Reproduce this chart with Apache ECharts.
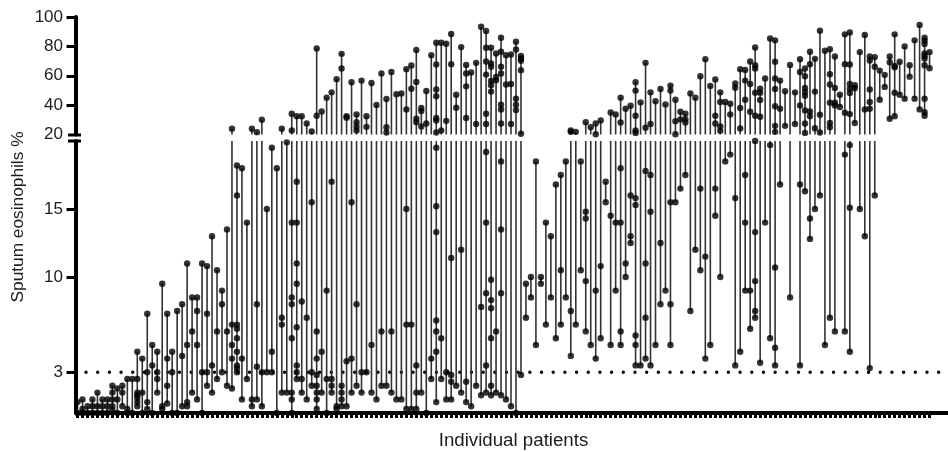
<!DOCTYPE html>
<html>
<head>
<meta charset="utf-8">
<style>html,body{margin:0;padding:0;background:#fff}#c{width:948px;height:452px}</style>
<script src="https://cdn.jsdelivr.net/npm/echarts@6/dist/echarts.min.js"></script>
</head>
<body>
<div id="c"></div>
<script>
// Sputum eosinophil readings per individual patient.
const patientsA = [
[0.8,0],[1.0,0.3,0],[0.5,0],[1.0,0.5,0],[1.5,0.5,0],[1.0,0.5,0],[1.0,0.5,0],[2.0,1.5,1.0,0.5,0.2],
[1.8,1.0,0],[2.0,1.5,0.5],[2.5,0.3,0],[2.5,0],[4.5,2.5,1.5,1.3,1.1,0.8,0.5],[4.0,1.5,0],[7.3,3.0,0.8,0.3],
[5.0,3.5,0],[4.5,3.0,2.5,1.5],[9.5,0.5,0.3],[7.3,4.0,2.0,0.7],[4.5,3.0,0],[7.5,0],[8.0,4.2,0.5],
[11.0,5.0,0.8,0.5],[8.5,6.0,1.5],[8.5,7.5,5.0,1.0],[11.0,3.0,0],[10.8,7.3,3.0,2.0],[13.0,3.5,1.5],
[10.5,6.0,2.5],[9.0,8.0,3.0],[13.5,6.0,2.0]
];
const patientsB = [
[23.9,6.5,5.0,4.0,1.8],[18.2,16.0,6.5,6.2,5.5,4.5,3.5,3.3,3.0],[18.0,4.0,1.0],[14.0,2.5],[23.9,1.0,0.5],
[21.6,8.0,3.4,1.0],[30.0,3.0,0.5],[15.0,3.0],[19.5,4.5,3.0],[18.0,0],[23.9,7.0,6.5,1.5],[19.9,1.5],
[34.1,22.7,14.0,8.5,8.0,5.5,1.5,1.0,0],[32.5,17.0,14.0,11.0,9.5,6.3,3.5,3.0,2.5],[32.5,8.2,2.5,1.5],
[27.5,7.0,1.0],[22.1,15.5,3.0,2.0],[78.6,32.8,6.0,4.0,2.8,2.0,1.5,1.0,0.3],[35.7,4.5,1.5],[45.1,9.0,2.5,0],
[48.7,17.0,2.5,2.0,1.5],[57.6,0.5,0.3],[74.9,64.9,2.0,1.5,1.0,0.5],[32.5,31.4,3.8,0.5],[55.6,15.5,4.0,1.5],
[33.7,28.4,25.5,22.7,8.0,2.0],[56.7,3.0,1.5],[32.5,25.2,3.0],[55.1,5.0,1.5],[40.1,1.0]
];
const patientsC = [
[61.5,6.0,2.0],[44.2,25,21.4,2.0],[62.6,6.0,1.5],[47.4,1.0],[48,1.0],[64.5,37.1,15.0,6.5,0.3],[67,51.2,6.5,0.3],
[77.5,55.8,30.7,28.4,3.5,1.5,0.3],[38,36,25.5,1.5],[49.6,27.5,0],[74,4.0,2.5],
[82.5,67.7,50.6,46,31.2,29.6,21.4,19.5,15.2,13.3,6.8,6.0,4.5,0.8],[82.5,22.7,5.5,2.5],[81.8,29.3,3.0,1.0],
[88.4,67.9,11.4,2.8,2.3,1.0],[47.1,38.2,2.0],[79.5,12.0,1.5],[67.4,61.5,52.8,31.2,2.3,0.8],[62.2,0.5],
[68.8,27.1,2.0],[93.4,7.8,1.3],[90.5,79.1,69.7,60.8,34.1,27.1,19.2,14.0,8.8,3.5,1.5],
[79.1,68.3,66.1,56.5,53.5,49.2,9.8,8.3,7.7,5.5,2.0,1.3],[75.2,59.2,56.9,6.0,1.5],
[85.9,76.3,66.1,61.5,40.3,37.1,27.5,18.5,13.5,8.8,1.3],[74,54,1.0],[74.5,54.4,27.1,0.5],
[83.2,77.9,44.4,40.3,36.6,0],[73.4,71.8,70.2,63.8,20.5,2.8]
];
const patientsD = [
[9.5,7.0],[10,8.5],[18.5,5.0],[10,9.5],[14,6.5],[13,8.5],[16.8,5.5],[17.5,10.5,6.5],[18.5,8.5],
[22.7,21.8,7.5,4.2],[21.8,6.5],[18.5,10.5],[28.4,14.8,14.3,9.7,6.0],[25,5.0],[27.5,20.2,9.0,4.0],
[29.6,10.8,5.5],[17,15.5],[35,14.5,5.0],[33.7,14,9.0],[45.1,28.2,18,14,6.0,5.0],[37.6,11,10],
[39.6,16,13,12.5],[55.6,49.9,32.8,22.7,21.1,15.8,15.3,5.7,5.0,3.5],[41.9,3.5],[68.8,24.6,17.8,11,7,4],
[48.7,27.1,17.5,14.8,3.5],[42.6,5],[51,12.5,8],[40.5,9],[53.3,49.9,15.5,8,5],[43.7,29.1,20.2,15.5],
[35.5,30.3,16.5],[34.1,30.3,28.2,17.5]
];
const patientsE = [
[48,7.5],[45.1,12],[59.7,16.5,10.5],[71.3,11.5,4],[53.1,5],[57.4,32.8,27.5,16.5,14.5],[48.7,42.1,25.5,22.5,10],
[42.1,18.5],[41,33.7,19],[54.7,51.9,15.8,3.5],[64.5,38,24.1,4.5],[64,56.7,43.7,17.5,14,9],[69.7,54.4,35.5,9,6.2],
[79.3,67.2,64.9,48.5,32.8,20,13.3,9.7,7.5,7],[51.2,48.5,43.5,32.1,3.7],[58.1,14],[85.4,19.7,5.5],
[84.1,69.5,58.1,51,39.2,25.9,21.8,10.7,4.8,3.5],[56.7,37.6,16.8],[49.4,25.9],[67.4,8.5],[48.7,27.1],
[71.3,62.6,39.8,16.8,3.5],[64.9,59.7,51.7,49,46.4,36.4,27.5,21.1,16.3]
];
const patientsF = [
[76.3,67.9,35.7,32.5,14.3,12.8],[71.5,49.2,24.3,15],[90.7,33.5,21.4,16],[77,5],[78.1,61,54,41.7,27.8,25,7],
[73.1,51.7,41.7,39.8,6],[47.1,38.7],[88.2,67.9,34.8,19,6],[89.5,67.7,54.4,51.2,48.3,33.9,19.7,15.1,4.5],
[53.5,51.5,27.8],[76.1,15],[87.7,37.1,13],[73.1,70.4,50.6,42.1,37.6,3.3],[72.7,66.1,16],[63.5,43.7],[60.6,52.4],
[73.1,69.2,30.7],[88.2,66.7,65.8,48.5,32.5],[69.5,47.1],[80,44.4],[67.2,59.4],[84.1,44.4],[94.6,37.1],
[85.9,83.8,81.6,75.2,73.4,71.8,67.2,44.4,35.2,32.8],[76.1,65.1]
];
const upperTicks = [40, 60, 80, 100];
const upperLabels = [20, 40, 60, 80, 100];
const lowerTicks = [3, 10, 15];
const referenceLevel = 3;
const xTitle = 'Individual patients';
const yTitle = 'Sputum eosinophils %';

const patients = [].concat(patientsA, patientsB, patientsC, patientsD, patientsE, patientsF);
const BREAK = 20;
const categories = [];
for (let i = 0; i < patients.length + 4; i++) categories.push(String(i + 1));

const dotsUpper = [], dotsLower = [], stemsUpper = [], stemsLower = [];
patients.forEach((vals, i) => {
  const hi = Math.max(...vals), lo = Math.min(...vals);
  vals.forEach(v => (v > BREAK ? dotsUpper : dotsLower).push([i, v]));
  if (hi > BREAK) stemsUpper.push([i, Math.max(lo, BREAK), hi]);
  if (lo <= BREAK) stemsLower.push([i, lo, Math.min(hi, BREAK)]);
});

function renderStem(params, api) {
  const a = api.coord([api.value(0), api.value(1)]);
  const b = api.coord([api.value(0), api.value(2)]);
  return { type: 'line', shape: { x1: a[0], y1: a[1], x2: b[0], y2: b[1] },
           style: { stroke: '#333', lineWidth: 1.6 } };
}
const font = 'Liberation Sans';
const GL = 77.5, GW = 872;
const labelStyle = { color: '#1c1c1c', fontFamily: font, fontSize: 17, margin: 12.5 };
const chart = echarts.init(document.getElementById('c'), null, { renderer: 'canvas' });
chart.setOption({
  animation: false,
  backgroundColor: '#fff',
  grid: [
    { left: GL, width: GW, top: 17, height: 117.5, outerBoundsMode: 'none' },
    { left: GL, width: GW, top: 141, height: 272, outerBoundsMode: 'none' },
    { left: GL, width: GW, top: 19, height: 396, outerBoundsMode: 'none' }
  ],
  xAxis: [
    { gridIndex: 0, type: 'category', data: categories, boundaryGap: false, show: false },
    { gridIndex: 1, type: 'category', data: categories, boundaryGap: false, z: 6,
      axisLine: { lineStyle: { color: '#000', width: 4 } },
      axisTick: { show: true, length: 5, lineStyle: { color: '#000', width: 3 },
                  interval: (idx) => idx < patients.length },
      axisLabel: { show: false }, splitLine: { show: false },
      name: xTitle, nameLocation: 'middle', nameGap: 18,
      nameTextStyle: { color: '#1c1c1c', fontFamily: font, fontSize: 18.7 } },
    { gridIndex: 2, type: 'category', data: categories, boundaryGap: false, show: false }
  ],
  yAxis: [
    { gridIndex: 0, type: 'value', min: BREAK, max: 100, offset: 2, z: 6,
      axisLine: { show: true, lineStyle: { color: '#000', width: 4 } },
      axisTick: { show: true, length: 9, lineStyle: { color: '#000', width: 3 }, customValues: upperTicks },
      axisLabel: Object.assign({ customValues: upperLabels }, labelStyle),
      splitLine: { show: false } },
    { gridIndex: 1, type: 'value', min: 0, max: BREAK, offset: 2, z: 6,
      axisLine: { show: true, lineStyle: { color: '#000', width: 4 } },
      axisTick: { show: true, length: 9, lineStyle: { color: '#000', width: 3 }, customValues: lowerTicks },
      axisLabel: Object.assign({ customValues: lowerTicks }, labelStyle),
      splitLine: { show: false } },
    { gridIndex: 2, type: 'value', min: 0, max: 100,
      axisLine: { show: false }, axisTick: { show: false }, axisLabel: { show: false },
      splitLine: { show: false },
      name: yTitle, nameLocation: 'middle', nameGap: 51,
      nameTextStyle: { color: '#1c1c1c', fontFamily: font, fontSize: 17.3 } }
  ],
  series: [
    { type: 'line', xAxisIndex: 1, yAxisIndex: 1, data: [[0, referenceLevel], [174, referenceLevel]],
      showSymbol: false, silent: true, z: 1,
      lineStyle: { color: '#000', width: 3.4, cap: 'round', type: [0.01, 11.67], dashOffset: 3.17 } },
    { type: 'custom', xAxisIndex: 0, yAxisIndex: 0, data: stemsUpper, renderItem: renderStem, z: 2,
      encode: { x: 0, y: [1, 2] } },
    { type: 'custom', xAxisIndex: 1, yAxisIndex: 1, data: stemsLower, renderItem: renderStem, z: 2,
      encode: { x: 0, y: [1, 2] } },
    { type: 'scatter', xAxisIndex: 0, yAxisIndex: 0, data: dotsUpper, symbolSize: 6.4,
      itemStyle: { color: '#000' }, z: 3, clip: false },
    { type: 'scatter', xAxisIndex: 1, yAxisIndex: 1, data: dotsLower, symbolSize: 6.4,
      itemStyle: { color: '#000' }, z: 3, clip: false }
  ],
  graphic: [
    { type: 'rect', z: 10, shape: { x: 68, y: 133.5, width: 13, height: 3 }, style: { fill: '#000' } },
    { type: 'rect', z: 10, shape: { x: 68, y: 139.5, width: 13, height: 3 }, style: { fill: '#000' } }
  ]
});
</script>
</body>
</html>
